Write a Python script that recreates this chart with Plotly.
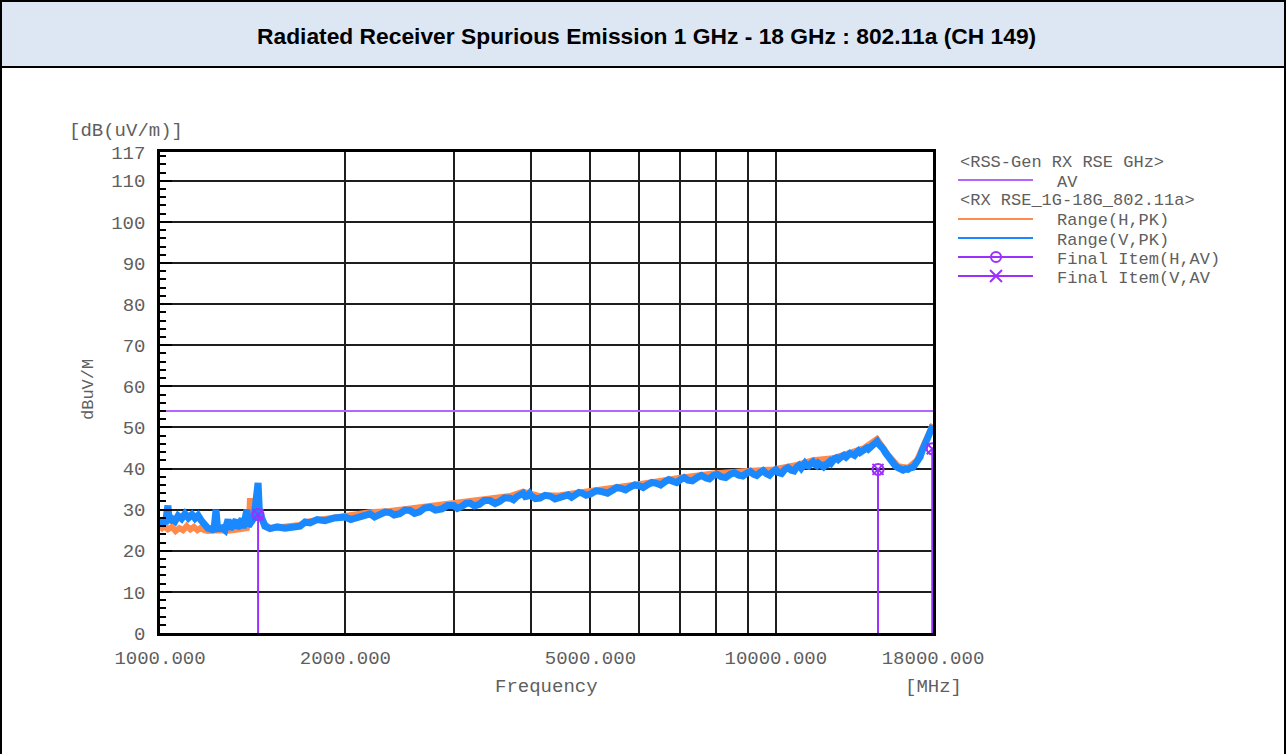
import math
import plotly.graph_objects as go

# ---------------- data ----------------
title_text = "Radiated Receiver Spurious Emission 1 GHz - 18 GHz : 802.11a (CH 149)"

limit_freq = [1000, 18000]
limit_av = [54, 54]

v_freq = [1000, 1011, 1020, 1030, 1035, 1046, 1058, 1070, 1084, 1098, 1112, 1127, 1140, 1153,
          1165, 1174, 1185, 1196, 1215, 1225, 1233, 1240, 1261, 1275, 1290, 1300, 1329, 1335,
          1359, 1365, 1384, 1392, 1421, 1432, 1443, 1450, 1464, 1480, 1509, 1550, 1596, 1640,
          1688, 1720, 1752, 1800, 1853, 1920, 2000, 2040, 2090, 2140, 2193, 2230, 2270, 2320,
          2363, 2400, 2450, 2500, 2547, 2590, 2640, 2690, 2745, 2800, 2870, 2930, 3000, 3040,
          3090, 3140, 3187, 3240, 3300, 3360, 3434, 3500, 3560, 3630, 3702, 3750, 3800, 3850,
          3886, 3920, 3950, 3980, 4000, 4070, 4141, 4220, 4300, 4380, 4463, 4530, 4600, 4660,
          4720, 4790, 4850, 4920, 5000, 5110, 5220, 5330, 5440, 5520, 5600, 5700, 5800, 5900,
          6000, 6090, 6180, 6290, 6400, 6500, 6610, 6700, 6800, 6900, 7000, 7100, 7200, 7320,
          7450, 7570, 7700, 7800, 7910, 8030, 8150, 8290, 8430, 8560, 8700, 8840, 8980, 9090,
          9200, 9310, 9430, 9540, 9650, 9770, 9900, 10000, 10100, 10220, 10350, 10470, 10600,
          10710, 10820, 10910, 11000, 11070, 11150, 11220, 11300, 11400, 11490, 11570, 11650,
          11720, 11800, 11870, 11950, 12030, 12110, 12180, 12250, 12310, 12380, 12460, 12550,
          12630, 12720, 12810, 12900, 13000, 13100, 13200, 13300, 13420, 13550, 13620, 13700,
          13800, 13910, 13980, 14050, 14130, 14220, 14320, 14420, 14510, 14600, 14650, 14700,
          14770, 14850, 14940, 15080, 15220, 15350, 15500, 15650, 15790, 15950, 16090, 16250,
          16390, 16550, 16700, 16830, 16950, 17050, 17150, 17280, 17410, 17500, 17600, 17700,
          17800, 17900, 18000]
v_pk = [26.0, 27.5, 26.5, 31.0, 27.0, 27.8, 27.2, 28.5, 27.8, 29.0, 28.0, 28.8, 27.9, 28.6,
        27.5, 27.0, 26.0, 25.5, 25.2, 25.8, 30.0, 25.4, 25.6, 25.0, 27.6, 25.3, 27.5, 25.4,
        27.8, 25.5, 30.0, 26.0, 28.0, 31.0, 36.5, 29.5, 27.5, 26.0, 25.4, 25.8, 25.5, 25.9,
        26.0, 27.0, 26.8, 27.6, 27.3, 28.0, 28.2, 27.6, 28.0, 28.7, 29.0, 28.2, 28.6, 29.4,
        29.3, 28.7, 29.0, 29.9, 29.8, 29.1, 29.5, 30.4, 30.6, 29.9, 30.2, 31.0, 31.0, 30.3,
        30.8, 31.5, 31.6, 30.9, 31.3, 32.2, 32.2, 31.5, 32.0, 32.9, 32.8, 32.4, 33.2, 33.6,
        34.0, 33.2, 33.3, 33.9, 33.4, 32.7, 32.8, 33.5, 33.3, 32.6, 33.0, 33.7, 33.6, 33.0,
        33.4, 34.2, 34.0, 33.5, 33.8, 34.6, 34.4, 34.0, 34.8, 35.4, 35.2, 34.8, 35.5, 36.0,
        35.8, 35.4, 36.0, 36.6, 36.4, 36.0, 36.8, 37.3, 36.9, 36.6, 37.3, 37.8, 37.2, 37.0,
        37.8, 38.3, 37.7, 37.5, 38.3, 38.6, 38.0, 37.8, 38.6, 39.0, 38.4, 38.2, 38.9, 39.3,
        38.6, 38.3, 39.0, 39.5, 38.8, 38.4, 39.3, 39.7, 39.0, 38.8, 39.8, 40.2, 39.6,
        39.4, 40.4, 40.8, 40.1, 40.6, 41.3, 40.8, 40.6, 41.2, 41.6, 41.0, 40.7,
        41.3, 41.0, 40.5, 40.4, 40.9, 40.9, 41.5, 41.8, 41.4, 42.0, 42.4, 42.6,
        42.2, 42.6, 43.1, 43.2, 42.8, 43.2, 43.7, 43.5, 43.2, 44.0, 44.3, 43.9,
        44.3, 44.7, 44.5, 45.0, 44.7, 45.2, 45.6, 45.8, 46.3, 46.6, 46.2, 46.0,
        45.5, 45.2, 44.8, 43.8, 42.8, 42.0, 41.4, 40.6, 40.2, 39.8, 39.6, 39.9,
        39.8, 40.2, 40.3, 41.0, 41.5, 42.0, 42.8, 44.3, 45.5, 46.2, 47.0, 48.0,
        49.0, 49.8, 50.5]

h_freq = [1000, 1015, 1030, 1046, 1060, 1075, 1090, 1105, 1120, 1135, 1150, 1165, 1180, 1196,
          1240, 1290, 1340, 1384, 1396, 1400, 1406, 1443, 1464, 1480, 1509, 1596, 1688, 1752,
          1853, 2000, 2193, 2363, 2547, 2745, 3000, 3187, 3434, 3702, 3886, 4141, 4463, 4720,
          5000, 5440, 6180, 7000, 7910, 8980, 9900, 10820, 11490, 12380, 13100, 13910, 14600,
          15220, 15790, 16390, 16950, 17410, 18000]
h_pk = [25.0, 26.0, 25.2, 25.8, 24.8, 25.5, 25.0, 26.0, 25.2, 25.8, 25.0, 25.6, 25.0, 24.8,
        25.0, 24.9, 25.2, 25.5, 28.0, 32.8, 27.0, 29.5, 27.8, 26.5, 25.5, 25.8, 26.3, 27.2,
        27.8, 28.6, 29.4, 29.7, 30.3, 31.0, 31.4, 32.0, 32.6, 33.3, 34.4, 33.3, 33.5, 34.0,
        34.3, 35.3, 36.5, 37.8, 38.8, 39.4, 39.8, 40.9, 42.0, 42.5, 43.7, 45.0, 47.2,
        43.3, 40.6, 40.2, 42.0, 46.0, 50.8]

final_freq = [1443, 14655, 17950]
final_h_av = [28.8, 39.8, 44.8]
final_v_av = [28.8, 39.8, 44.8]

x_tick_vals = [1000, 2000, 5000, 10000, 18000]
x_tick_text = ["1000.000", "2000.000", "5000.000", "10000.000", "18000.000"]
x_minor_vals = [3000, 4000, 6000, 7000, 8000, 9000]
y_tick_vals = [0, 10, 20, 30, 40, 50, 60, 70, 80, 90, 100, 110, 117]

# ---------------- style ----------------
W, H = 1287, 754
L, R, T, B = 160, 933, 152, 633
ORANGE = "#ff8a4c"
BLUE = "#1a88ff"
PURPLE = "#9b30ff"
LIMIT = "#b266ff"
GRID = "#1e1e1e"
TXT = "#5f5f5f"
MONO = "Liberation Mono, Courier New, monospace"


def px(x):
    return (x - L) / (R - L)


def py(y):
    return (B - y) / (B - T)


fig = go.Figure()

fig.add_trace(go.Scatter(x=limit_freq, y=limit_av, mode="lines",
                         line=dict(color=LIMIT, width=2), showlegend=False))
fig.add_trace(go.Scatter(x=h_freq, y=h_pk, mode="lines",
                         line=dict(color=ORANGE, width=6), showlegend=False))
fig.add_trace(go.Scatter(x=v_freq, y=v_pk, mode="lines",
                         line=dict(color=BLUE, width=7), showlegend=False))

# drop lines from 0 to each final item
drop_x, drop_y = [], []
for f, v in zip(final_freq, final_h_av):
    drop_x += [f, f, None]
    drop_y += [0, v, None]
fig.add_trace(go.Scatter(x=drop_x, y=drop_y, mode="lines",
                         line=dict(color=PURPLE, width=2), showlegend=False))
fig.add_trace(go.Scatter(x=final_freq, y=final_h_av, mode="markers",
                         marker=dict(symbol="circle-open", size=11, color=PURPLE,
                                     line=dict(width=2, color=PURPLE)), showlegend=False))
fig.add_trace(go.Scatter(x=final_freq, y=final_v_av, mode="markers",
                         marker=dict(symbol="x-thin-open", size=11, color=PURPLE,
                                     line=dict(width=2, color=PURPLE)), showlegend=False))

shapes = []
annotations = []

# title box and outer frame
shapes.append(dict(type="rect", xref="paper", yref="paper",
                   x0=px(1), x1=px(1285), y0=py(67), y1=py(1),
                   fillcolor="#dde7f3", line=dict(color="black", width=2), layer="below"))
shapes.append(dict(type="line", xref="paper", yref="paper", x0=px(1), x1=px(1),
                   y0=py(0), y1=py(754), line=dict(color="black", width=2)))
shapes.append(dict(type="line", xref="paper", yref="paper", x0=px(1285), x1=px(1285),
                   y0=py(0), y1=py(754), line=dict(color="black", width=2)))
annotations.append(dict(text="<b>" + title_text + "</b>", xref="paper", yref="paper",
                        x=px(646), y=py(36), showarrow=False, xanchor="center", yanchor="middle",
                        font=dict(family="Liberation Sans, Arial, sans-serif", size=22.8,
                                  color="black")))

# axis captions
annotations.append(dict(text="[dB(uV/m)]", xref="paper", yref="paper", x=px(67), y=py(131),
                        showarrow=False, xanchor="left", yanchor="middle",
                        font=dict(family=MONO, size=19, color=TXT)))
annotations.append(dict(text="dBuV/M", xref="paper", yref="paper", x=px(88), y=py(390),
                        showarrow=False, textangle=-90, xanchor="center", yanchor="middle",
                        font=dict(family=MONO, size=17, color=TXT)))
annotations.append(dict(text="Frequency", xref="paper", yref="paper", x=px(546), y=py(687),
                        showarrow=False, xanchor="center", yanchor="middle",
                        font=dict(family=MONO, size=19, color=TXT)))
annotations.append(dict(text="[MHz]", xref="paper", yref="paper", x=px(933), y=py(687),
                        showarrow=False, xanchor="center", yanchor="middle",
                        font=dict(family=MONO, size=19, color=TXT)))

# custom legend
LX0, LX1, LT = 958, 1033, 1055
leg_font = dict(family=MONO, size=17, color=TXT)
annotations.append(dict(text="&lt;RSS-Gen RX RSE GHz&gt;", xref="paper", yref="paper",
                        x=px(LX0), y=py(162), showarrow=False, xanchor="left", yanchor="middle",
                        font=leg_font))
annotations.append(dict(text="&lt;RX RSE_1G-18G_802.11a&gt;", xref="paper", yref="paper",
                        x=px(LX0), y=py(200), showarrow=False, xanchor="left", yanchor="middle",
                        font=leg_font))
legend_rows = [("AV", 180, LIMIT, None),
               ("Range(H,PK)", 219, ORANGE, None),
               ("Range(V,PK)", 238, BLUE, None),
               ("Final Item(H,AV)", 257, PURPLE, "o"),
               ("Final Item(V,AV", 276, PURPLE, "x")]
for label, yy, col, mk in legend_rows:
    shapes.append(dict(type="line", xref="paper", yref="paper", x0=px(LX0), x1=px(LX1),
                       y0=py(yy), y1=py(yy), line=dict(color=col, width=2)))
    annotations.append(dict(text=label, xref="paper", yref="paper", x=px(LT), y=py(yy + 2),
                            showarrow=False, xanchor="left", yanchor="middle", font=leg_font))
    if mk == "o":
        shapes.append(dict(type="circle", xref="paper", yref="paper",
                           x0=px(991), x1=px(1001), y0=py(yy - 5), y1=py(yy + 5),
                           line=dict(color=col, width=2), fillcolor="rgba(0,0,0,0)"))
    elif mk == "x":
        shapes.append(dict(type="line", xref="paper", yref="paper", x0=px(990), x1=px(1002),
                           y0=py(yy - 6), y1=py(yy + 6), line=dict(color=col, width=2)))
        shapes.append(dict(type="line", xref="paper", yref="paper", x0=px(990), x1=px(1002),
                           y0=py(yy + 6), y1=py(yy - 6), line=dict(color=col, width=2)))

fig.update_layout(
    width=W, height=H,
    margin=dict(l=L, r=W - R, t=T, b=H - B, pad=0),
    paper_bgcolor="white", plot_bgcolor="white",
    showlegend=False,
    shapes=shapes, annotations=annotations,
    xaxis=dict(type="log", range=[3, math.log10(18000)],
               tickvals=x_tick_vals, ticktext=x_tick_text,
               showgrid=True, gridcolor=GRID, gridwidth=1.5,
               minor=dict(tickvals=x_minor_vals, showgrid=True, gridcolor=GRID, gridwidth=1.5,
                          ticks=""),
               showline=True, linecolor="black", linewidth=2.5, mirror=True,
               ticks="outside", ticklen=5, tickcolor="rgba(0,0,0,0)",
               tickfont=dict(family=MONO, size=19, color=TXT), zeroline=False),
    yaxis=dict(range=[0, 117], tickvals=y_tick_vals,
               showgrid=True, gridcolor=GRID, gridwidth=1.5,
               ticks="inside", ticklen=12, tickcolor="black", tickwidth=2,
               minor=dict(dtick=2, ticks="inside", ticklen=6, tickcolor="black", tickwidth=1.5,
                          showgrid=False),
               showline=True, linecolor="black", linewidth=2.5, mirror=True,
               ticklabelstandoff=8,
               tickfont=dict(family=MONO, size=19, color=TXT), zeroline=False),
)

fig.write_html("out.html", config={"displayModeBar": False},
               post_script="document.body.style.margin='0';document.body.style.overflow='hidden';")
